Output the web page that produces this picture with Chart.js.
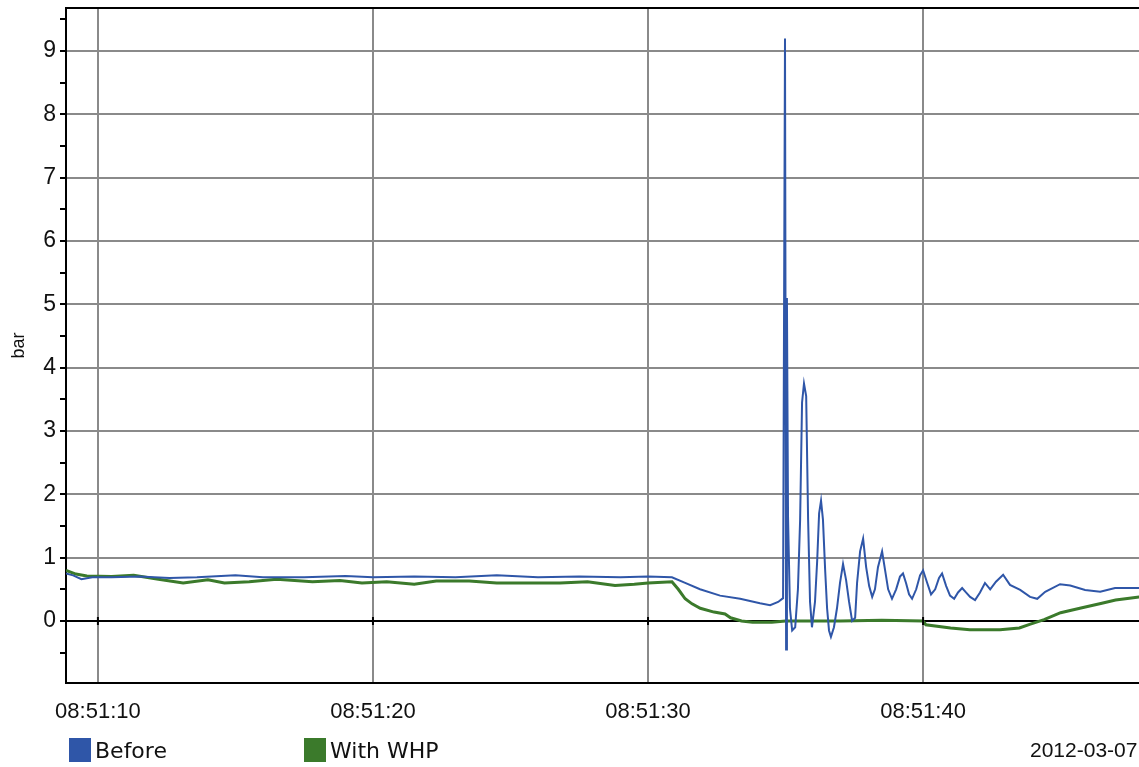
<!DOCTYPE html>
<html>
<head>
<meta charset="utf-8">
<script src="https://cdn.jsdelivr.net/npm/chart.js@4"></script>
<style>
    body { margin: 0; background: #fff; }
    #wrap { position: relative; width: 1139px; height: 767px; overflow: hidden; }
    .key { position: absolute; top: 738px; font-family: "DejaVu Sans", sans-serif; font-size: 22px; color: #111; }
    .key span { display: inline-block; width: 22px; height: 24px; vertical-align: -4px; margin-right: 4px; }
    #date { position: absolute; left: 1030px; top: 738px; font-family: "Liberation Sans", Arial, sans-serif; font-size: 21px; color: #111; }
</style>
</head>
<body>
<div id="wrap">
    <canvas id="pressureChart" width="1139" height="767"></canvas>
    <div class="key" style="left:69px"><span style="background:#2f56a8"></span>Before</div>
    <div class="key" style="left:304px"><span style="background:#3b7a2b"></span>With WHP</div>
    <div id="date">2012-03-07</div>
</div>
<script>
// ===== DATA (seconds after 08:51:00, bar) =====
const beforeTime = [8.84, 9.1, 9.4, 9.8, 10.5, 11.5, 12.6, 13.6, 15, 16, 17.5, 19, 20, 21.5, 23, 24.5, 26, 27.5, 29, 30, 30.87,
    31.35, 31.89, 32.62, 33.35, 34.07, 34.44, 34.73, 34.91,
    34.98, 35.02, 35.05, 35.09, 35.16, 35.24, 35.35, 35.45, 35.53, 35.6, 35.67, 35.75, 35.82, 35.89, 35.96,
    36.07, 36.15, 36.22, 36.29, 36.36, 36.44, 36.51, 36.58, 36.65, 36.76, 36.87, 36.98, 37.09, 37.2, 37.31, 37.42,
    37.53, 37.6, 37.71, 37.82, 37.93, 38.04, 38.15, 38.25, 38.36, 38.51, 38.62, 38.73, 38.87, 39.02, 39.16, 39.27,
    39.38, 39.49, 39.6, 39.75, 39.89, 40.0, 40.15, 40.29, 40.44, 40.58, 40.69, 40.84, 40.98, 41.13, 41.27, 41.42,
    41.56, 41.71, 41.89, 42.07, 42.25, 42.44, 42.65, 42.91, 43.16, 43.53, 43.89, 44.15, 44.44, 44.98, 45.35, 45.89,
    46.44, 46.98, 47.85];
const beforeValues = [0.75, 0.72, 0.66, 0.69, 0.69, 0.70, 0.68, 0.69, 0.72, 0.69, 0.69, 0.71, 0.69, 0.70, 0.69, 0.72, 0.69, 0.70, 0.69, 0.70, 0.69,
    0.6, 0.5, 0.4, 0.35, 0.28, 0.25, 0.3, 0.36,
    9.2, -0.45, 5.1, 1.65, 0.2, -0.15, -0.1, 0.5, 1.6, 3.45, 3.75, 3.55, 1.6, 0.3, -0.1,
    0.3, 0.95, 1.7, 1.9, 1.6, 0.8, 0.2, -0.15, -0.25, -0.1, 0.2, 0.6, 0.9, 0.65, 0.3, 0.0,
    0.05, 0.6, 1.1, 1.3, 0.85, 0.55, 0.38, 0.5, 0.85, 1.1, 0.8, 0.5, 0.35, 0.5, 0.7, 0.75,
    0.6, 0.42, 0.35, 0.5, 0.72, 0.8, 0.6, 0.42, 0.5, 0.68, 0.75, 0.55, 0.4, 0.35, 0.45, 0.52,
    0.45, 0.38, 0.33, 0.45, 0.6, 0.5, 0.62, 0.73, 0.57, 0.49, 0.38, 0.35, 0.46, 0.58, 0.56, 0.49,
    0.46, 0.52, 0.52];

const whpTime = [8.84, 9.2, 9.6, 10.5, 11.3, 12.2, 13.1, 14.0, 14.6, 15.5, 16.5, 17.8, 18.8, 19.6, 20.5, 21.5, 22.3, 23.5,
    24.5, 25.5, 26.8, 27.8, 28.8, 29.5, 30.0, 30.87, 31.1, 31.35, 31.6, 31.9, 32.4, 32.8, 33.0, 33.4, 33.8, 34.5,
    35.0, 37.0, 38.5, 40.0, 40.1, 41.0, 41.7, 42.8, 43.5, 43.9, 44.4, 45.0, 45.7, 46.5, 47.0, 47.5, 47.9];
const whpValues = [0.8, 0.74, 0.71, 0.70, 0.72, 0.66, 0.6, 0.65, 0.6, 0.62, 0.66, 0.62, 0.64, 0.6, 0.62, 0.58, 0.63, 0.63,
    0.6, 0.6, 0.6, 0.62, 0.56, 0.58, 0.6, 0.62, 0.5, 0.35, 0.27, 0.2, 0.14, 0.11, 0.05, 0.0, -0.02, -0.02,
    0.0, 0.0, 0.01, 0.0, -0.06, -0.11, -0.14, -0.14, -0.11, -0.05, 0.02, 0.13, 0.2, 0.28, 0.33, 0.36, 0.38];

const xTickValues = [10, 20, 30, 40];
const yTickValues = [-0.5, 0, 0.5, 1, 1.5, 2, 2.5, 3, 3.5, 4, 4.5, 5, 5.5, 6, 6.5, 7, 7.5, 8, 8.5, 9, 9.5];

const toPoints = (t, v) => t.map((x, i) => ({ x: x, y: v[i] }));

// ===== FRAME (top border + zero-line ticks) =====
const framePlugin = {
    id: "frame",
    afterDraw(chart) {
        const a = chart.chartArea;
        const ctx = chart.ctx;
        const y0 = chart.scales.y.getPixelForValue(0);
        ctx.save();
        ctx.strokeStyle = "#000";
        ctx.lineWidth = 2;
        ctx.beginPath();
        ctx.moveTo(a.left, a.top);
        ctx.lineTo(a.right, a.top);
        xTickValues.forEach(v => {
            const x = chart.scales.x.getPixelForValue(v);
            ctx.moveTo(x, y0 - 4);
            ctx.lineTo(x, y0 + 4);
        });
        ctx.stroke();
        ctx.restore();
    }
};

const tickFont = { family: "Liberation Sans, Arial, sans-serif", size: 23 };

new Chart(document.getElementById("pressureChart"), {
    type: "line",
    data: {
        datasets: [
            {
                label: "With WHP",
                data: toPoints(whpTime, whpValues),
                borderColor: "#3b7a2b",
                borderWidth: 3,
                pointRadius: 0,
                tension: 0,
                order: 2
            },
            {
                label: "Before",
                data: toPoints(beforeTime, beforeValues),
                borderColor: "#2f56a8",
                borderWidth: 2,
                pointRadius: 0,
                tension: 0,
                order: 1
            }
        ]
    },
    options: {
        responsive: false,
        animation: false,
        layout: { padding: { top: 8, right: 0, left: 0, bottom: 0 } },
        plugins: {
            legend: { display: false },
            tooltip: { enabled: false }
        },
        scales: {
            x: {
                type: "linear",
                min: 8.84,
                max: 47.85,
                afterBuildTicks: s => { s.ticks = xTickValues.map(v => ({ value: v })); },
                afterFit: s => { s.height = 84; s.paddingLeft = 0; s.paddingRight = 0; },
                ticks: {
                    padding: 16,
                    maxRotation: 0,
                    color: "#111",
                    font: { family: "Liberation Sans, Arial, sans-serif", size: 22 },
                    callback: v => "08:51:" + v
                },
                grid: { color: "#8a8a8a", lineWidth: 2, drawTicks: false },
                border: { color: "#000", width: 2 }
            },
            y: {
                min: -0.98,
                max: 9.68,
                afterBuildTicks: s => { s.ticks = yTickValues.map(v => ({ value: v })); },
                afterFit: s => { s.width = 66; s.paddingTop = 0; s.paddingBottom = 0; },
                title: {
                    display: true,
                    text: "bar",
                    color: "#111",
                    font: { family: "Liberation Sans, Arial, sans-serif", size: 18 },
                    padding: { top: 8, bottom: 0 }
                },
                ticks: {
                    padding: 4,
                    color: "#111",
                    font: tickFont,
                    callback: v => Number.isInteger(v) ? v : ""
                },
                grid: {
                    color: c => c.tick && c.tick.value === 0 ? "#000" : (Number.isInteger(c.tick && c.tick.value) ? "#8a8a8a" : "rgba(0,0,0,0)"),
                    lineWidth: 2,
                    tickColor: "#000",
                    tickLength: 6
                },
                border: { color: "#000", width: 2 }
            }
        }
    },
    plugins: [framePlugin]
});
</script>
</body>
</html>
